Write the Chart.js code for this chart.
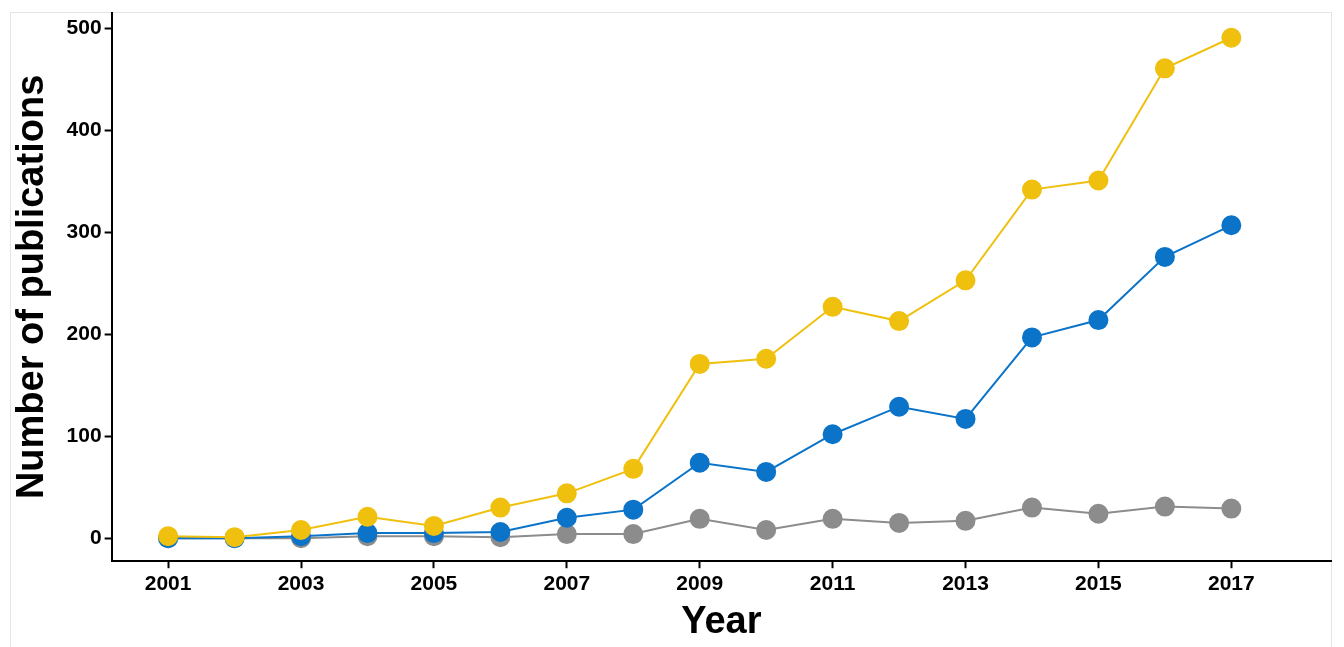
<!DOCTYPE html>
<html><head>
<script src="https://cdn.jsdelivr.net/npm/chart.js@4.4.1/dist/chart.umd.min.js"></script>
<style>
html,body{margin:0;padding:0;background:#fff;overflow:hidden;}
#frame{position:absolute;left:10px;top:12px;width:1322px;height:640px;border:1px solid #e4e4e4;box-sizing:border-box;}
#wrap{position:absolute;left:0;top:-3px;width:1342px;height:650px;}
canvas{display:block;}
</style>
</head><body>
<div id="frame"></div>
<div id="wrap"><canvas id="c"></canvas></div>
<script>
const years = [2001,2002,2003,2004,2005,2006,2007,2008,2009,2010,2011,2012,2013,2014,2015,2016,2017];
const yellowVals = [2,1,8,21,12,30,44,68,171,176,227,213,253,342,351,461,491];
const blueVals = [0,0,2,5,5,6,20,28,74,65,102,129,117,197,214,276,307];
const grayVals = [0,0,0,2,2,1,4,4,19,8,19,15,17,30,24,31,29];
const xTicks = [2001,2003,2005,2007,2009,2011,2013,2015,2017];
const yTicks = [0,100,200,300,400,500];

const pts = (vals) => years.map((y, i) => ({x: y, y: vals[i]}));
const series = (vals, color) => ({
  data: pts(vals), borderColor: color, backgroundColor: color,
  pointBackgroundColor: color, pointBorderColor: color,
  borderWidth: 2, pointRadius: 9, pointHoverRadius: 9, tension: 0
});
const tickFont = { family: 'Liberation Sans', size: 21, weight: 'bold' };
const titleFont = { family: 'Liberation Sans', size: 38, weight: 'bold' };

new Chart(document.getElementById('c'), {
  type: 'line',
  data: { datasets: [series(yellowVals, '#f0c00f'), series(blueVals, '#0b74c9'), series(grayVals, '#8c8c8c')] },
  options: {
    responsive: true, maintainAspectRatio: false, animation: false,
    layout: { padding: { left: 10, bottom: 2, top: 0, right: 0 } },
    plugins: { legend: { display: false }, tooltip: { enabled: false } },
    scales: {
      x: {
        type: 'linear', min: 2000.15, max: 2018.5,
        afterBuildTicks: (a) => { a.ticks = xTicks.map(v => ({value: v})); },
        grid: { color: 'transparent', tickColor: '#000', tickLength: 7, tickWidth: 2 },
        border: { color: '#000', width: 2 },
        ticks: { color: '#000', font: tickFont, padding: 3, maxRotation: 0, callback: (v) => String(v) },
        title: { display: true, text: 'Year', color: '#000', font: titleFont, padding: { top: 0, bottom: 0 } }
      },
      y: {
        min: -22.6, max: 515.7,
        afterBuildTicks: (a) => { a.ticks = yTicks.map(v => ({value: v})); },
        grid: { color: 'transparent', tickColor: '#000', tickLength: 7, tickWidth: 2 },
        border: { color: '#000', width: 2 },
        ticks: { color: '#000', font: tickFont, padding: 3, callback: (v) => String(v) },
        title: { display: true, text: 'Number of publications', color: '#000', font: titleFont, padding: { top: 0, bottom: 8 } }
      }
    }
  }
});
</script>
</body></html>
